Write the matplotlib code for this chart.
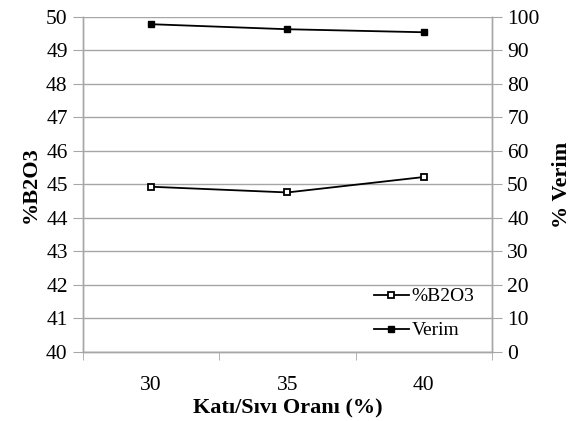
import matplotlib
matplotlib.use("Agg")
import matplotlib.pyplot as plt
import numpy as np

categories = ["30", "35", "40"]
b2o3 = [44.93, 44.76, 45.22]
verim = [97.8, 96.3, 95.4]

plt.rcParams['font.family'] = ['Liberation Serif', 'DejaVu Serif']

fig = plt.figure(figsize=(5.76, 4.21), dpi=100)
ax = fig.add_axes([0.144, 0.164, 0.710, 0.796])
ax2 = ax.twinx()

x = np.arange(len(categories))
grid_c = '#a6a6a6'

ax.set_ylim(40, 50)
ax.set_yticks(np.arange(40, 51, 1))
ax2.set_ylim(0, 100)
ax2.set_yticks(np.arange(0, 101, 10))
ax.set_xlim(-0.5, len(categories) - 0.5)
ax.yaxis.grid(True, color=grid_c, linewidth=1)
ax.set_axisbelow(True)

l1, = ax.plot(x, b2o3, color='black', linewidth=1.3, marker='s', markersize=5,
              markerfacecolor='white', markeredgecolor='black', markeredgewidth=1.3,
              label='%B2O3', zorder=3)
l2, = ax2.plot(x, verim, color='black', linewidth=1.3, marker='s', markersize=5,
               markerfacecolor='black', markeredgecolor='black', label='Verim', zorder=3)

ax.set_xticks(x)
ax.set_xticklabels(categories)
ax.set_xticks(np.arange(-0.5, len(categories), 1), minor=True)
ax.tick_params(axis='x', which='major', length=0, labelsize=15.5, pad=17)
ax.tick_params(axis='x', which='minor', length=6, color=grid_c, direction='out')
ax.tick_params(axis='y', length=7, color=grid_c, labelsize=15.5, pad=4)
ax2.tick_params(axis='y', length=7, color=grid_c, labelsize=15.5, pad=4)

for a in (ax, ax2):
    a.spines['top'].set_visible(False)
    for s in ('left', 'right', 'bottom'):
        a.spines[s].set_color(grid_c)
        a.spines[s].set_linewidth(1)

ax.set_xlabel('Katı/Sıvı Oranı (%)', fontsize=16, fontweight='bold', labelpad=3)
ax.set_ylabel('%B2O3', fontsize=16, fontweight='bold', labelpad=4)
ax2.set_ylabel('% Verim', fontsize=16, fontweight='bold', labelpad=9)

ax.legend(handles=[l1, l2], loc='lower right', bbox_to_anchor=(1.0, -0.015),
          frameon=False, fontsize=14, handlelength=1.8, handletextpad=0.15,
          labelspacing=0.85)

fig.savefig('out.png', dpi=100)
